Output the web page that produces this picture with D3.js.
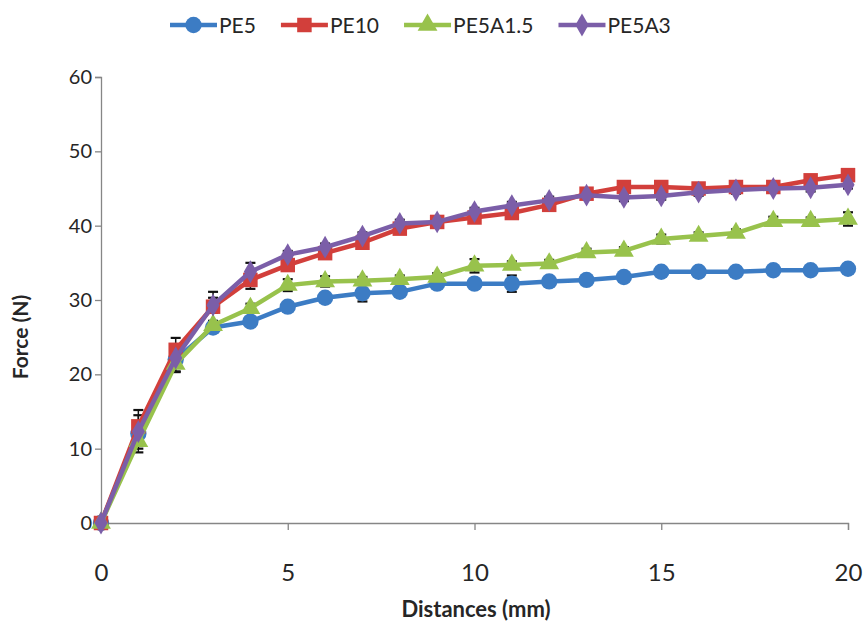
<!DOCTYPE html>
<html>
<head>
<meta charset="utf-8">
<script src="https://cdn.jsdelivr.net/npm/d3@7"></script>
<style>
  html, body { margin: 0; padding: 0; background: #fff; }
  svg { display: block; }
  text { font-family: Lato, "Open Sans", sans-serif; fill: #262626; }
</style>
</head>
<body>
<svg id="chart" width="865" height="624"></svg>
<script>
// ---- data ----
const distances = [0,1,2,3,4,5,6,7,8,9,10,11,12,13,14,15,16,17,18,19,20];
const seriesNames = ["PE5", "PE10", "PE5A1.5", "PE5A3"];
const pe5     = [0, 12.0, 22.0, 26.3, 27.1, 29.1, 30.3, 30.9, 31.1, 32.2, 32.2, 32.2, 32.5, 32.7, 33.1, 33.8, 33.8, 33.8, 34.0, 34.0, 34.2];
const pe10    = [0, 13.0, 23.3, 29.1, 32.7, 34.7, 36.3, 37.7, 39.6, 40.5, 41.1, 41.7, 42.8, 44.3, 45.2, 45.2, 45.0, 45.2, 45.2, 46.1, 46.8];
const pe5a15  = [0, 11.0, 21.4, 26.6, 28.9, 32.0, 32.5, 32.6, 32.8, 33.1, 34.6, 34.7, 34.9, 36.4, 36.6, 38.2, 38.6, 39.0, 40.6, 40.6, 40.9];
const pe5a3   = [0, 12.3, 22.2, 29.3, 33.8, 36.1, 37.1, 38.6, 40.3, 40.5, 41.9, 42.7, 43.4, 44.1, 43.8, 44.0, 44.5, 44.8, 45.0, 45.1, 45.5];
const errPe5    = [0, 2.5, 1.7, 0.6, 0.5, 0.6, 0.5, 1.1, 0.5, 0.5, 0.5, 1.1, 0.5, 0.5, 0.5, 0.5, 0.5, 0.5, 0.5, 0.5, 0.5];
const errPe10   = [0, 2.2, 1.6, 2.0, 1.2, 0.6, 0.6, 0.6, 0.6, 0.6, 0.6, 0.6, 0.6, 0.6, 0.6, 0.6, 0.6, 0.6, 0.6, 0.6, 0.6];
const errPe5a15 = [0, 1.0, 1.0, 0.6, 0.6, 0.8, 0.7, 0.5, 0.5, 0.5, 0.9, 0.5, 0.5, 0.5, 0.5, 0.6, 0.5, 0.5, 0.6, 0.5, 0.9];
const errPe5a3  = [0, 1.0, 1.0, 1.0, 1.2, 0.5, 0.5, 0.5, 0.5, 0.5, 0.5, 0.5, 0.5, 0.5, 0.5, 0.5, 0.5, 0.5, 0.5, 0.5, 0.5];
const xTicks = [0, 5, 10, 15, 20];
const yTicks = [0, 10, 20, 30, 40, 50, 60];
const xTitle = "Distances (mm)";
const yTitle = "Force (N)";

// ---- style ----
const colors = ["#3c7cc4", "#d23f3b", "#98c24c", "#7b5ea8"];
const symbols = [d3.symbolCircle, d3.symbolSquare, d3.symbolTriangle, d3.symbolDiamond];
const symbolSizes = [210, 210, 170, 150];

const values = [pe5, pe10, pe5a15, pe5a3];
const errors = [errPe5, errPe10, errPe5a15, errPe5a3];
const series = seriesNames.map((name, i) => ({
  name, color: colors[i], symbol: symbols[i], size: symbolSizes[i],
  points: distances.map((d, j) => ({ x: d, y: values[i][j], e: errors[i][j] }))
}));

const svg = d3.select("#chart");
const m = { left: 101, right: 865 - 848, top: 77, bottom: 624 - 523 };
const W = 865, H = 624;
const x = d3.scaleLinear().domain([0, 20]).range([m.left, W - m.right]);
const y = d3.scaleLinear().domain([0, 60]).range([H - m.bottom, m.top]);

// axes
const yAxis = svg.append("g").attr("transform", `translate(${m.left},0)`)
  .call(d3.axisLeft(y).tickValues(yTicks).tickSize(6).tickPadding(3));
const xAxis = svg.append("g").attr("transform", `translate(0,${H - m.bottom})`)
  .call(d3.axisBottom(x).tickValues(xTicks).tickSize(7).tickPadding(34));
[xAxis, yAxis].forEach(g => {
  g.selectAll("path.domain").attr("stroke", "#868686").attr("stroke-width", 1.3);
  g.selectAll(".tick line").attr("stroke", "#868686").attr("stroke-width", 1.3);
  g.selectAll("text").attr("fill", "#262626").style("font-family", "Lato, 'Open Sans', sans-serif");
});
yAxis.selectAll("text").style("font-size", "20px");
xAxis.selectAll("text").style("font-size", "24px");

// axis titles
svg.append("text").attr("x", 476).attr("y", 617).attr("text-anchor", "middle")
  .style("font-size", "22px").style("font-weight", "bold").text(xTitle);
svg.append("text").attr("transform", "translate(28,337) rotate(-90)").attr("text-anchor", "middle")
  .style("font-size", "21px").style("font-weight", "bold").text(yTitle);

// error bars (beneath series)
const eg = svg.append("g");
series.forEach(s => {
  s.points.filter(p => p.e > 0).forEach(p => {
    const cx = x(p.x), y1 = y(p.y + p.e), y2 = y(p.y - p.e);
    eg.append("line").attr("x1", cx).attr("x2", cx).attr("y1", y1).attr("y2", y2)
      .attr("stroke", "#111").attr("stroke-width", 1.5);
    [y1, y2].forEach(yy => eg.append("line").attr("x1", cx - 5).attr("x2", cx + 5)
      .attr("y1", yy).attr("y2", yy).attr("stroke", "#111").attr("stroke-width", 2.2));
  });
});

// series
const line = d3.line().x(p => x(p.x)).y(p => y(p.y));
series.forEach(s => {
  const g = svg.append("g");
  g.append("path").datum(s.points).attr("d", line).attr("fill", "none")
    .attr("stroke", s.color).attr("stroke-width", 4.5).attr("stroke-linejoin", "round");
  g.selectAll("path.mk").data(s.points).join("path").attr("class", "mk")
    .attr("transform", p => `translate(${x(p.x)},${y(p.y)})`)
    .attr("d", d3.symbol().type(s.symbol).size(s.size)).attr("fill", s.color);
});

// legend
const lg = svg.append("g");
let lx = 170;
const ly = 25;
series.forEach(s => {
  lg.append("line").attr("x1", lx).attr("x2", lx + 47).attr("y1", ly).attr("y2", ly)
    .attr("stroke", s.color).attr("stroke-width", 4.5);
  lg.append("path").attr("transform", `translate(${lx + 23.5},${ly})`)
    .attr("d", d3.symbol().type(s.symbol).size(s.size)).attr("fill", s.color);
  const t = lg.append("text").attr("x", lx + 49).attr("y", ly + 7.5)
    .style("font-size", "21px").text(s.name);
  lx = lx + 49 + t.node().getComputedTextLength() + 25;
});
</script>
</body>
</html>
